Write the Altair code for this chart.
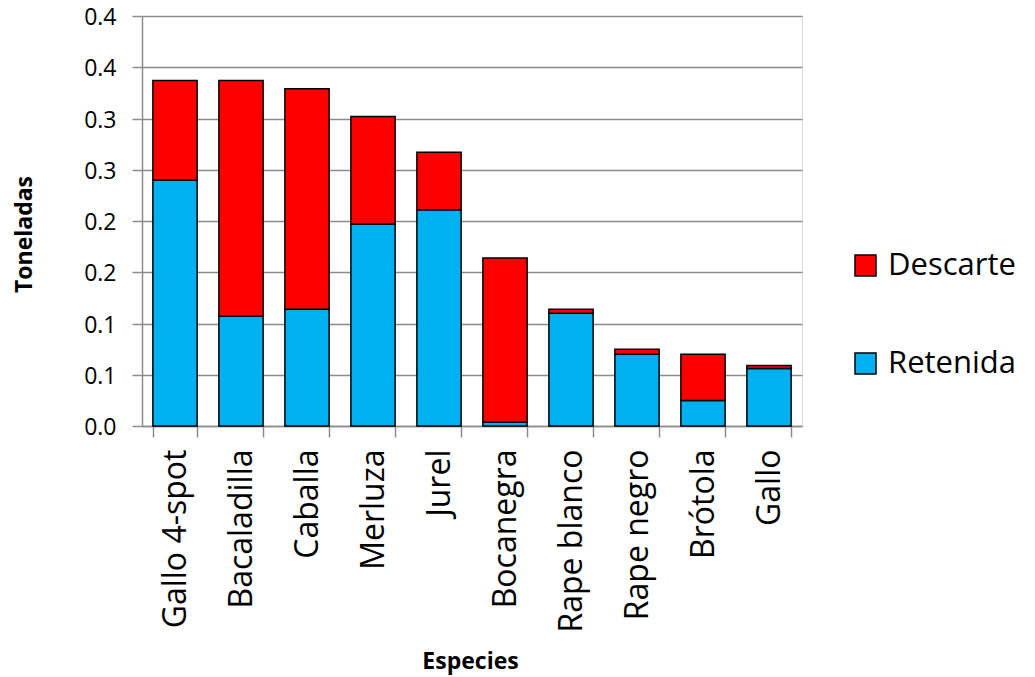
import altair as alt
import pandas as pd

especies = ["Gallo 4-spot", "Bacaladilla", "Caballa", "Merluza", "Jurel",
            "Bocanegra", "Rape blanco", "Rape negro", "Brótola", "Gallo"]
retenida = [0.240, 0.107, 0.114, 0.197, 0.211, 0.004, 0.110, 0.070, 0.025, 0.056]
descarte = [0.097, 0.230, 0.215, 0.105, 0.056, 0.160, 0.004, 0.005, 0.045, 0.003]
series = ["Descarte", "Retenida"]
colores = ["#FF0000", "#00B0F0"]
y_ticks = [0, 0.05, 0.1, 0.15, 0.2, 0.25, 0.3, 0.35, 0.4]

rows = []
for e, r, d in zip(especies, retenida, descarte):
    rows.append({"Especie": e, "Tipo": "Retenida", "Toneladas": r, "orden": 0})
    rows.append({"Especie": e, "Tipo": "Descarte", "Toneladas": d, "orden": 1})
df = pd.DataFrame(rows)

FONT = "Open Sans"
GRID = "#8c8c8c"

chart = alt.Chart(df).mark_bar(stroke="black", strokeWidth=1.5).encode(
    x=alt.X("Especie:N", sort=especies,
            scale=alt.Scale(paddingInner=0.33, paddingOuter=0.165),
            axis=alt.Axis(title="Especies", labelAngle=-90, labelAlign="right",
                          labelBaseline="middle", labelFontSize=32, labelFont=FONT,
                          labelColor="black", labelPadding=12, labelLimit=400,
                          tickBand="extent", tickSize=11, tickColor=GRID, tickWidth=1.5,
                          domainColor=GRID, domainWidth=1.5,
                          titleFont=FONT, titleFontSize=23, titleFontWeight="bold",
                          titleColor="black", titleX=328, titleY=242,
                          titleAlign="center", titleBaseline="alphabetic")),
    y=alt.Y("Toneladas:Q", stack="zero",
            scale=alt.Scale(domain=[0, 0.4], nice=False),
            axis=alt.Axis(title="Toneladas", values=y_ticks,
                          labelExpr="format(datum.value + 0.0001, '.1f')",
                          labelFontSize=23, labelFont=FONT, labelColor="black",
                          labelPadding=16, labelOffset=1.5,
                          tickSize=10, tickColor=GRID, tickWidth=1.5,
                          domainColor=GRID, domainWidth=1.5,
                          grid=True, gridColor=GRID, gridWidth=1.5,
                          titleFont=FONT, titleFontSize=23, titleFontWeight="bold",
                          titleColor="black", titleAngle=-90, titleX=-118, titleY=218,
                          titleAlign="center", titleBaseline="middle")),
    color=alt.Color("Tipo:N", scale=alt.Scale(domain=series, range=colores),
                    legend=alt.Legend(title=None, orient="none", legendX=708, legendY=234,
                                      symbolType="square", symbolSize=441,
                                      symbolStrokeColor="black", symbolStrokeWidth=1.5,
                                      labelFontSize=31, labelFont=FONT, labelColor="black",
                                      labelOffset=7, rowPadding=66, padding=0)),
    order=alt.Order("orden:Q"),
).properties(
    width=660, height=410,
    autosize=alt.AutoSizeParams(type="none"),
    padding={"left": 134, "top": 8, "right": 225, "bottom": 251},
).configure_view(stroke=None).configure(background="white")

chart.save("out.html", embed_options={"renderer": "svg", "actions": False})
